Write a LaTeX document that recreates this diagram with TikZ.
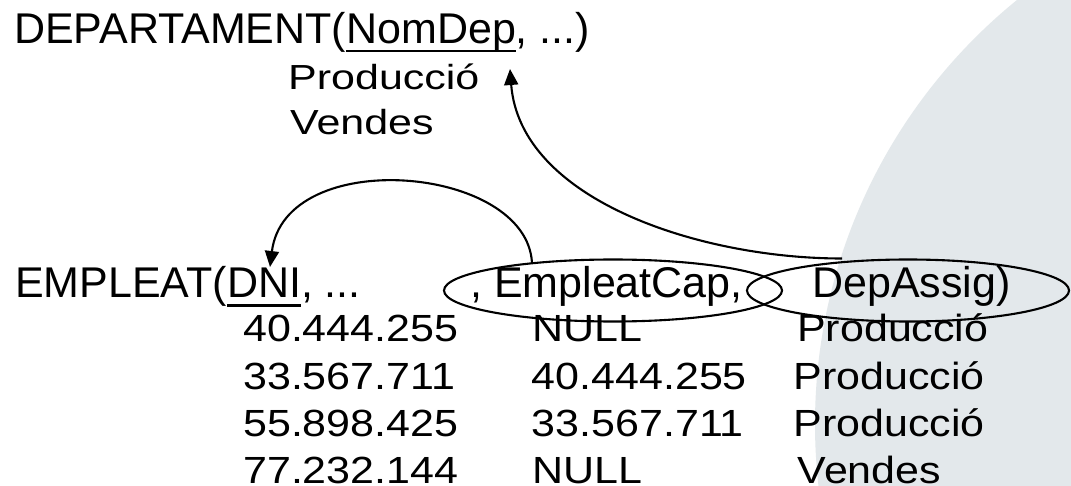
\documentclass[tikz,border=0pt]{standalone}
\usepackage{fontspec}
\setmainfont{Liberation Sans}
\usetikzlibrary{arrows.meta,shapes.geometric}
\definecolor{bgc}{HTML}{E3E8EB}
\newlength\ulw
\newcommand\myul[1]{\settowidth\ulw{#1}\rlap{\rule[-9pt]{\ulw}{2.6pt}}#1}
\newcommand\vsq[2]{\scalebox{1}[#1]{#2}}
\tikzset{
  txt/.style={anchor=base west, inner sep=0pt, font=\fontsize{43pt}{48pt}\selectfont},
  ring/.style={draw, ellipse, line width=2.1pt, inner sep=0pt},
  link/.style={line width=2.1pt, -{Triangle[length=16pt,width=14pt]}},
}
\begin{document}
\begin{tikzpicture}[x=1pt,y=-1pt]
\useasboundingbox (0,0) rectangle (1071,486);
\fill[white] (0,0) rectangle (1071,486);
\begin{scope}
  \clip (0,0) rectangle (1071,486);
  \fill[bgc] (1361,424) circle[radius=546pt];
\end{scope}
% headers
\node[txt] (dep) at (14,43.5) {DEPARTAMENT(\myul{NomDep}, ...)};
\node[txt] (p0) at (288,90) {\vsq{0.81}{Producció}};
\node[txt] (v0) at (290,135) {\vsq{0.81}{Vendes}};
\node[txt] (emp) at (15,298) {EMPLEAT(\myul{DNI}, ...};
\node[txt] (cap) at (470,298) {, EmpleatCap,};
\node[txt] (das) at (812,298) {DepAssig)};
% rows
\node[txt] (a1) at (243,341.5) {\vsq{0.88}{40.444.255}};
\node[txt] (a2) at (243,389) {\vsq{0.88}{33.567.711}};
\node[txt] (a3) at (243,436.5) {\vsq{0.88}{55.898.425}};
\node[txt] (a4) at (243,483) {\vsq{0.88}{77.232.144}};
\node[txt] (b1) at (532.5,341.5) {\vsq{0.88}{NULL}};
\node[txt] (b2) at (531.5,389) {\vsq{0.88}{40.444.255}};
\node[txt] (b3) at (531.5,436.5) {\vsq{0.88}{33.567.711}};
\node[txt] (b4) at (532.5,483) {\vsq{0.88}{NULL}};
\node[txt] (c1) at (797,341.5) {\vsq{0.88}{Producció}};
\node[txt] (c2) at (793.5,389) {\vsq{0.88}{Producció}};
\node[txt] (c3) at (793.5,436.5) {\vsq{0.88}{Producció}};
\node[txt] (c4) at (797.5,483) {\vsq{0.88}{Vendes}};
% ellipses
\node[ring, minimum width=338pt, minimum height=62pt] (e1) at (613,290.5) {};
\node[ring, minimum width=322pt, minimum height=62pt] (e2) at (908,290.5) {};
% connectors
\coordinate (s1) at (532,263);
\coordinate (t1) at (270,267);
\coordinate (s2) at (842,258.5);
\coordinate (t2) at (510,69);
\draw[link] (s1) .. controls (527,165) and (285,145) .. (t1);
\draw[link] (s2) .. controls (700,258.5) and (520,200) .. (t2);
\end{tikzpicture}
\end{document}
